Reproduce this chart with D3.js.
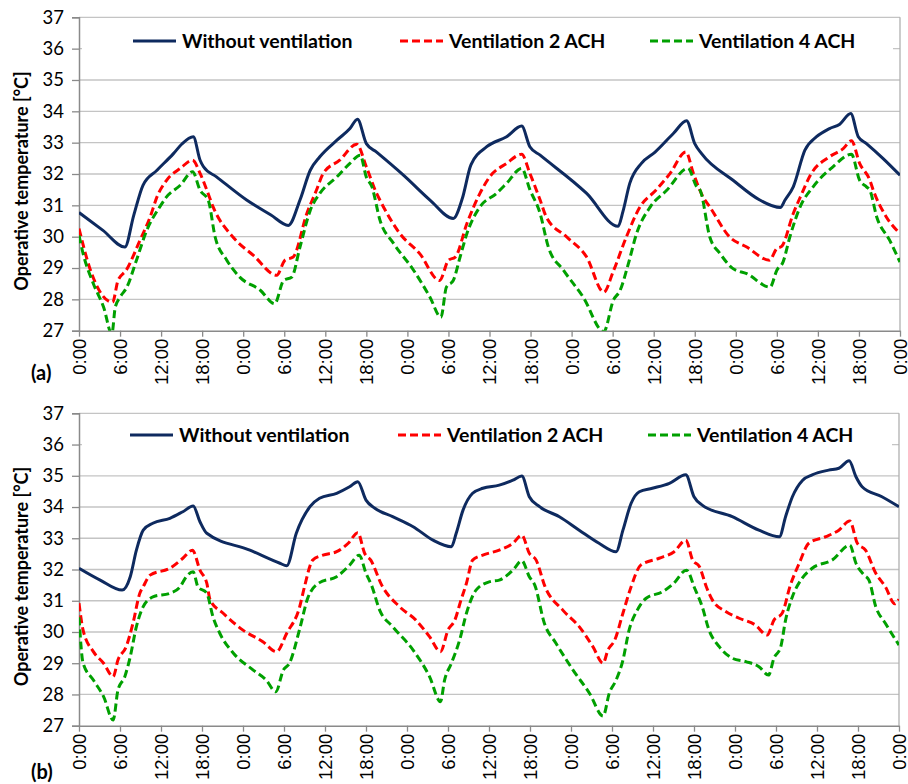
<!DOCTYPE html>
<html>
<head>
<meta charset="utf-8">
<script src="https://cdnjs.cloudflare.com/ajax/libs/d3/7.8.5/d3.min.js"></script>
<style>
  body { margin: 0; background: #fff; }
  svg { display: block; }
</style>
</head>
<body>
<div id="chart"></div>
<script>
var width = 908,
    height = 784;

// [hour, operative temperature]
var noVentA = [[0,30.77],[3.5,30.2],[6.7,29.67],[8,30.68],[9.35,31.64],[11.4,32.12],[13.8,32.65],[15,32.95],[16.7,33.19],[17.7,32.44],[18.2,32.23],[20.1,31.91],[24.5,31.17],[28,30.7],[30.6,30.36],[32.3,31.17],[33.8,32.12],[35.2,32.55],[37.7,33.08],[39.6,33.45],[40.7,33.75],[42,32.97],[43.5,32.7],[47.5,31.95],[51.3,31.17],[54.7,30.58],[56,31.2],[57.3,32.3],[59.6,32.87],[62.5,33.19],[64.7,33.53],[65.9,32.87],[67.4,32.6],[74.2,31.38],[78.8,30.33],[79.5,30.8],[80.5,31.7],[82.2,32.34],[84.2,32.7],[86.9,33.3],[88.8,33.7],[90,32.97],[91,32.65],[95.6,31.8],[99.5,31.17],[102.5,30.93],[103.2,31.17],[104.4,31.59],[106.1,32.76],[107.8,33.19],[109.7,33.45],[111.2,33.59],[112.8,33.93],[113.9,33.19],[115.1,32.97],[117.5,32.5],[120,31.96]];
var ach2A = [[0,30.26],[1.6,28.98],[4.9,27.91],[5.7,28.6],[6.9,28.93],[8.9,29.88],[10.4,30.63],[11.4,31.27],[12.8,31.8],[14.8,32.18],[16.6,32.44],[17.7,32.02],[18.7,31.48],[19.6,30.95],[22.5,29.99],[25.5,29.4],[28.9,28.77],[30.1,29.25],[31.3,29.35],[33.3,30.74],[34.7,31.48],[35.7,32.02],[38.1,32.44],[40.6,32.95],[42,32.23],[43.5,31.38],[44,31.16],[46.9,30.1],[49.8,29.46],[52.7,28.6],[54,29.25],[55,29.35],[56.7,30.42],[58.6,31.38],[60,31.9],[62.5,32.34],[64.7,32.63],[65.9,32.02],[67.4,31.17],[68.3,30.63],[71.3,29.99],[74.2,29.35],[76.7,28.23],[78.1,28.9],[80,29.99],[82,30.95],[84.4,31.5],[86.4,32.02],[88.7,32.7],[89.8,32.02],[91.2,31.27],[92.2,30.95],[95.1,29.99],[97.6,29.67],[100.9,29.25],[102,29.62],[102.7,29.69],[104.4,30.74],[105.5,31.3],[107,32.0],[109.7,32.55],[111.7,32.81],[112.9,33.06],[114.1,32.34],[115.6,31.8],[116.1,31.48],[118,30.63],[120,30.1]];
var ach4A = [[0,30.04],[0.6,29.46],[2.1,28.5],[3.6,27.75],[4.8,26.9],[5.3,27.75],[6,28.07],[7,28.39],[8.4,29.25],[9.9,30.2],[11.8,30.95],[12.8,31.27],[14.8,31.64],[16.6,32.07],[17.7,31.48],[18.9,31.16],[19.9,29.99],[21.6,29.25],[23.5,28.71],[26.5,28.29],[28.6,27.86],[29.9,28.6],[31.1,28.71],[32.3,29.67],[33.8,30.84],[35.2,31.38],[37.7,31.91],[39.6,32.34],[41.1,32.6],[42,31.9],[42.8,31.6],[44,30.52],[46,29.78],[48.9,28.93],[51.3,28.07],[52.9,27.43],[53.7,28.39],[54.7,28.6],[55.7,29.35],[56.7,30.1],[58.6,30.95],[61,31.38],[62.5,31.7],[64.7,32.18],[65.9,31.5],[67.4,30.74],[68.6,29.67],[70.8,28.93],[73.7,28.07],[76.7,26.97],[78.1,27.97],[79.1,28.29],[80.3,29.14],[81.5,30.1],[83.5,30.95],[85.9,31.48],[89,32.18],[90.3,31.59],[90.8,31.48],[92.2,29.99],[93.7,29.46],[95.6,28.98],[97.6,28.82],[101,28.39],[102,28.93],[102.9,29.19],[103.9,29.99],[105.4,30.95],[107.3,31.59],[110.2,32.23],[112.9,32.63],[114.1,31.8],[115.1,31.59],[115.6,31.48],[116.6,30.63],[118.5,29.88],[120,29.19]];

var noVentB = [[0,32.04],[3.1,31.66],[6.3,31.34],[7.5,31.77],[8.4,32.62],[9.4,33.26],[10.8,33.48],[13.3,33.64],[15.2,33.85],[16.7,34.03],[17.7,33.53],[18.7,33.16],[25,32.62],[29.4,32.2],[30.4,32.12],[31.8,33.16],[33.8,34.01],[35.2,34.28],[37.7,34.44],[39.6,34.65],[40.8,34.81],[42,34.22],[43.3,33.96],[45.9,33.69],[48.9,33.37],[51.8,32.94],[54.5,32.73],[55.2,33.16],[56.2,33.9],[57.6,34.44],[59.1,34.6],[61.5,34.7],[63.5,34.86],[64.8,34.99],[65.9,34.33],[67.4,34.01],[70.3,33.69],[73.2,33.26],[76.1,32.84],[78.6,32.57],[79.6,33.26],[80.8,34.12],[82,34.49],[83.9,34.6],[86.4,34.76],[88.8,35.03],[90,34.33],[91.2,34.06],[95.6,33.69],[99.5,33.26],[102.5,33.05],[103.4,33.69],[104.4,34.33],[105.9,34.86],[107.3,35.03],[109.7,35.18],[111.2,35.24],[112.7,35.48],[113.7,34.97],[114.6,34.65],[117.5,34.33],[120,34.01]];
var ach2B = [[0,30.92],[0.6,30.06],[2.1,29.37],[3.6,29.0],[5,28.57],[5.7,29.1],[6.9,29.53],[7.9,30.28],[8.9,31.24],[9.4,31.45],[10.4,31.82],[13.3,32.04],[15.2,32.36],[16.6,32.62],[17.7,31.98],[18.7,31.56],[19.2,31.02],[21.1,30.6],[24,30.06],[26.9,29.69],[28.9,29.37],[30.4,29.96],[32.3,30.81],[33,31.45],[34.2,32.3],[35.7,32.46],[37.7,32.57],[39.4,32.84],[40.8,33.18],[41.8,32.52],[42.7,32.3],[44.3,31.5],[46.9,30.81],[49.3,30.38],[51.3,29.85],[52.9,29.37],[54,30.06],[55,30.38],[55.9,31.02],[56.7,31.56],[57.6,32.3],[59.1,32.46],[61.5,32.62],[63.5,32.84],[64.8,33.1],[65.9,32.52],[66.9,32.3],[68.2,31.45],[70.8,30.7],[73.2,30.17],[75.2,29.53],[76.7,29.0],[77.4,29.42],[78.4,29.74],[79.6,30.6],[80.8,31.45],[82.2,32.14],[84.9,32.36],[87.1,32.57],[88.8,32.94],[89.8,32.3],[90.8,32.09],[91.8,31.45],[92.7,31.02],[94.7,30.65],[96.6,30.44],[99,30.22],[100.7,29.9],[101.7,30.38],[102.9,30.6],[104.1,31.5],[105.4,32.2],[106.8,32.84],[109.3,33.05],[111.2,33.26],[112.8,33.55],[113.9,32.84],[115.1,32.62],[116.6,31.88],[118,31.45],[119.4,30.9],[120,31.05]];
var ach4B = [[0,30.47],[0.6,29.0],[2.1,28.46],[3.6,27.93],[5,27.18],[5.7,28.14],[6.7,28.57],[7.5,29.21],[8.4,30.17],[9.4,30.81],[10.9,31.13],[13.3,31.24],[14.8,31.45],[15.7,31.77],[16.7,31.93],[17.4,31.45],[18.7,31.24],[19.6,30.49],[20.6,29.96],[22.6,29.32],[25.5,28.78],[27.4,28.46],[28.8,28.09],[29.9,28.78],[30.8,29.0],[32.3,30.1],[33.5,31.1],[35.2,31.58],[37.7,31.77],[39.6,32.14],[41,32.46],[42,31.88],[42.8,31.5],[44,30.7],[45.9,30.17],[48.9,29.42],[51.3,28.57],[52.9,27.77],[53.5,28.46],[54.5,29.0],[55.7,29.74],[56.7,30.6],[58.1,31.34],[60.1,31.61],[61.5,31.66],[63.5,31.98],[64.8,32.28],[65.9,31.77],[66.7,31.5],[68.1,30.28],[69.8,29.64],[72.3,28.78],[74.7,28.04],[76.7,27.31],[77.6,28.04],[78.6,28.46],[79.6,29.1],[80.5,30.06],[81.7,30.7],[83,31.08],[85.4,31.29],[87,31.55],[88.9,31.98],[90.1,31.4],[91.2,30.81],[92.2,30.06],[93.7,29.53],[95.6,29.16],[97.6,29.05],[99.5,28.89],[100.9,28.62],[101.7,29.16],[102.7,29.53],[103.4,30.38],[104.4,31.13],[105.6,31.65],[107.3,32.04],[110.2,32.3],[112.8,32.78],[113.7,32.2],[114.9,31.82],[115.6,31.66],[116.6,30.81],[118,30.28],[120,29.58]];

var seriesNames = ["Without ventilation", "Ventilation 2 ACH", "Ventilation 4 ACH"];
var tickHours = d3.range(0, 121, 6);
var tickLabels = ["0:00", "6:00", "12:00", "18:00"];
var yTicks = d3.range(27, 38, 1);

var colors = ["#0e2a5f", "#ff0000", "#00a000"],
    dashes = [null, "8,4", "8,4"];

var panels = [
  {id: "a", top: 17.3, bottom: 330.7, left: 79, right: 900, labelY: 380,
   legendY: 41, legendX: [133, 400, 650], data: [noVentA, ach2A, ach4A]},
  {id: "b", top: 413.3, bottom: 725.7, left: 79, right: 899, labelY: 779,
   legendY: 435, legendX: [130, 398, 648], data: [noVentB, ach2B, ach4B]}
];

var font = "Lato, 'Open Sans', sans-serif";

var svg = d3.select("#chart").append("svg")
    .attr("width", width)
    .attr("height", height);

panels.forEach(function(p) {
  var x = d3.scaleLinear().domain([0, 120]).range([p.left, p.right]),
      y = d3.scaleLinear().domain([27, 37]).range([p.bottom, p.top]);

  var g = svg.append("g");

  svg.append("clipPath").attr("id", "clip-" + p.id)
    .append("rect")
      .attr("x", p.left).attr("y", p.top)
      .attr("width", p.right - p.left).attr("height", p.bottom - p.top);

  // gridlines
  g.selectAll(".grid").data(yTicks.slice(1)).enter().append("line")
      .attr("x1", p.left).attr("x2", p.right)
      .attr("y1", y).attr("y2", y)
      .attr("stroke", "#c4c4c4").attr("stroke-width", 1.3);

  // right border
  g.append("line")
      .attr("x1", p.right).attr("x2", p.right)
      .attr("y1", p.top).attr("y2", p.bottom)
      .attr("stroke", "#b0b0b0").attr("stroke-width", 1.3);

  // legend background hides the 36 gridline
  g.append("rect")
      .attr("x", p.left + 3).attr("y", p.legendY - 19)
      .attr("width", p.right - p.left - 10).attr("height", 40)
      .attr("fill", "#fff");

  // y axis
  var yAxis = g.append("g")
      .attr("transform", "translate(" + p.left + ",0)")
      .call(d3.axisLeft(y).tickValues(yTicks).tickSize(7).tickPadding(8));
  yAxis.select(".domain").attr("stroke", "#8a8a8a").attr("stroke-width", 1.5);
  yAxis.selectAll(".tick line").attr("stroke", "#8a8a8a").attr("stroke-width", 1.3);
  yAxis.selectAll("text")
      .attr("fill", "#000")
      .style("font-family", font)
      .style("font-size", "18.5px");

  // x axis
  var xAxis = g.append("g")
      .attr("transform", "translate(0," + p.bottom + ")")
      .call(d3.axisBottom(x).tickValues(tickHours).tickSize(6).tickSizeOuter(0)
        .tickFormat(function(d) { return tickLabels[(d / 6) % 4]; }));
  xAxis.select(".domain").attr("stroke", "#8a8a8a").attr("stroke-width", 1.5);
  xAxis.selectAll(".tick line").attr("stroke", "#8a8a8a").attr("stroke-width", 1.3);
  xAxis.selectAll("text")
      .attr("fill", "#000")
      .attr("transform", "rotate(-90)")
      .attr("text-anchor", "end")
      .attr("x", -8).attr("y", 0).attr("dy", "0.35em")
      .style("font-family", "'Liberation Sans', Arial, sans-serif")
      .style("font-size", "18.5px");

  // y title
  g.append("text")
      .attr("transform", "translate(28," + ((p.top + p.bottom) / 2 + 7) + ")rotate(-90)")
      .attr("text-anchor", "middle")
      .style("font-family", font)
      .style("font-size", "18px")
      .style("font-weight", "bold")
      .text("Operative temperature [°C]");

  // panel label
  g.append("text")
      .attr("x", 31).attr("y", p.labelY)
      .style("font-family", font)
      .style("font-size", "20px")
      .style("font-weight", "bold")
      .text("(" + p.id + ")");

  // series
  var line = d3.line()
      .x(function(d) { return x(d[0]); })
      .y(function(d) { return y(d[1]); })
      .curve(d3.curveMonotoneX);

  g.append("g").attr("clip-path", "url(#clip-" + p.id + ")")
    .selectAll("path").data(p.data).enter().append("path")
      .attr("d", line)
      .attr("fill", "none")
      .attr("stroke", function(d, i) { return colors[i]; })
      .attr("stroke-width", 3)
      .attr("stroke-dasharray", function(d, i) { return dashes[i]; })
      .attr("stroke-linejoin", "round");

  // legend
  var leg = g.selectAll(".leg").data(seriesNames).enter().append("g")
      .attr("transform", function(d, i) { return "translate(" + p.legendX[i] + "," + p.legendY + ")"; });
  leg.append("line")
      .attr("x1", 0).attr("x2", 43)
      .attr("stroke", function(d, i) { return colors[i]; })
      .attr("stroke-width", 3)
      .attr("stroke-dasharray", function(d, i) { return dashes[i]; });
  leg.append("text")
      .attr("x", 49).attr("dy", "0.35em")
      .style("font-family", font)
      .style("font-size", "19.5px")
      .style("font-weight", "bold")
      .text(function(d) { return d; });
});
</script>
</body>
</html>
